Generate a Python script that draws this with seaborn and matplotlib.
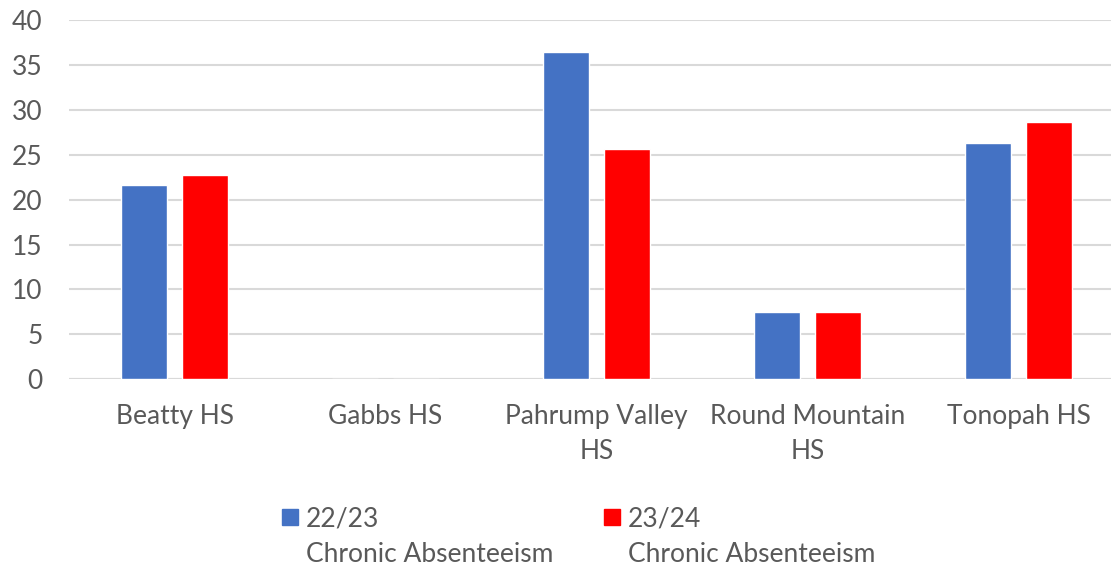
import matplotlib
matplotlib.use("Agg")
import matplotlib.pyplot as plt
import seaborn as sns
import pandas as pd
from matplotlib.patches import Rectangle

schools = ["Beatty HS", "Gabbs HS", "Pahrump Valley\nHS", "Round Mountain\nHS", "Tonopah HS"]
series_year = ["22/23", "23/24"]
series_name = ["Chronic Absenteeism", "Chronic Absenteeism"]
vals_2223 = [21.6, 0, 36.4, 7.5, 26.3]
vals_2324 = [22.7, 0, 25.6, 7.5, 28.6]
colors = ["#4472C4", "#FF0000"]
yticks = [0, 5, 10, 15, 20, 25, 30, 35, 40]

series = [f"{y}\n{n}" for y, n in zip(series_year, series_name)]
df = pd.DataFrame({
    "School": schools * 2,
    "Series": [series[0]] * 5 + [series[1]] * 5,
    "Value": vals_2223 + vals_2324,
})

sns.set_theme(style="white")
plt.rcParams["font.family"] = ["Lato", "DejaVu Sans"]
TXT = "#595959"
FS = 19

W, H = 1111, 567
fig = plt.figure(figsize=(W / 100, H / 100), dpi=100)
ax = fig.add_axes([69 / W, 1 - 379.3 / H, (W - 69) / W, (379.3 - 19.9) / H])

sns.barplot(data=df, x="School", y="Value", hue="Series", palette=colors,
            width=0.578, gap=0.23, ax=ax, legend=False, saturation=1)

ax.set_ylim(0, 40)
ax.set_xlim(-0.5, -0.5 + (W - 69) / 211)
ax.set_yticks(yticks)
ax.set_yticklabels([str(t) for t in yticks])
ax.yaxis.grid(True, color="#D9D9D9", linewidth=1.5)
ax.set_axisbelow(True)
for s in ax.spines.values():
    s.set_visible(False)
ax.axhline(0, color="#D9D9D9", linewidth=1.5, zorder=0.5)
ax.set_xlabel("")
ax.set_ylabel("")
ax.tick_params(axis="both", length=0, labelsize=FS, colors=TXT)
ax.tick_params(axis="y", pad=19)
ax.tick_params(axis="x", pad=18)
for lab in ax.get_xticklabels():
    lab.set_linespacing(1.5)

# legend
leg_x = [282, 604]
for x0, c, yr, nm in zip(leg_x, colors, series_year, series_name):
    fig.patches.append(Rectangle((x0 / W, 1 - 525 / H), 16 / W, 16 / H,
                                 transform=fig.transFigure, color=c))
    fig.text((x0 + 24) / W, 1 - 527 / H, yr, color=TXT, fontsize=FS,
             va="baseline", ha="left")
    fig.text((x0 + 24) / W, 1 - 562 / H, nm, color=TXT, fontsize=FS,
             va="baseline", ha="left")

fig.savefig("out.png", dpi=100)
